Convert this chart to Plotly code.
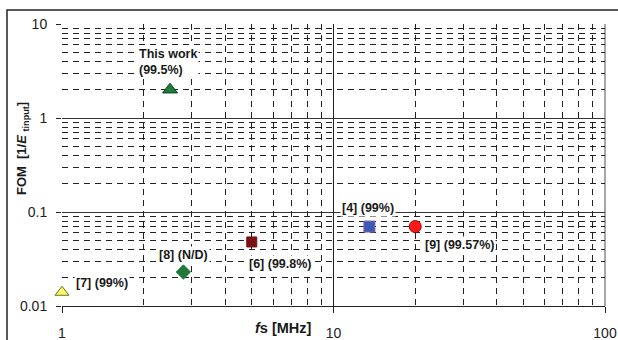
import math
import plotly.graph_objects as go

# ---- data ----
names = ["This work", "[7]", "[8]", "[6]", "[4]", "[9]"]
fs_mhz = [2.5, 1.0, 2.8, 5.0, 13.56, 20.0]
fom = [2.0, 0.014, 0.023, 0.048, 0.07, 0.07]
labels = ["This work<br>(99.5%)", "[7] (99%)", "[8] (N/D)", "[6] (99.8%)", "[4] (99%)", "[9] (99.57%)"]
x_tickvals = [1, 10, 100]
x_ticktext = ["1", "10", "100"]
y_tickvals = [0.01, 0.1, 1, 10]
y_ticktext = ["0.01", "0.1", "1", "10"]

# ---- styles ----
symbols = ["triangle-up", "triangle-up", "diamond", "square", "square", "circle"]
fills = ["#1e7b3c", "#ffff66", "#1f7a3c", "#7a1214", "#3a5bb4", "#ff1a1a"]
borders = ["#0d4020", "#6b6b20", "#1f7a3c", "#7a1214", "#8a60a8", "#a00000"]
sizes = [13, 12, 11, 10, 11, 12]
# label placement: (xanchor, xshift, yshift)
place = [("left", -33, 28), ("left", 12, 9), ("center", 0, 17),
         ("left", -5, -22), ("center", -1, 19), ("left", 8, -18)]

FONT = "Liberation Sans, Arial, sans-serif"

fig = go.Figure()
for i in range(len(names)):
    fig.add_trace(go.Scatter(
        x=[fs_mhz[i]], y=[fom[i]], mode="markers", name=names[i],
        marker=dict(symbol=symbols[i], size=sizes[i], color=fills[i],
                    line=dict(color=borders[i], width=1)),
        cliponaxis=False, showlegend=False))

for i in range(len(names)):
    xa, xs, ys = place[i]
    fig.add_annotation(x=math.log10(fs_mhz[i]), y=math.log10(fom[i]),
                       text="<b>" + labels[i] + "</b>", showarrow=False,
                       xanchor=xa, yanchor="middle", xshift=xs, yshift=ys,
                       align="left", bgcolor="white", borderpad=1,
                       font=dict(family=FONT, size=12.5, color="#1a1a1a"))

# axis titles
fig.add_annotation(xref="paper", yref="paper", x=0.407, y=-0.078,
                   text="<b><i>f</i>s [MHz]</b>", showarrow=False,
                   xanchor="center", yanchor="middle",
                   font=dict(family=FONT, size=14.5, color="#1a1a1a"))
fig.add_annotation(xref="paper", yref="paper", x=-0.0737, y=0.56,
                   text="<b>FOM  [1/<i>E</i> <sub>tinput</sub>]</b>", showarrow=False,
                   textangle=-90, xanchor="center", yanchor="middle",
                   font=dict(family=FONT, size=13, color="#1a1a1a"))

# major vertical gridline at 10 and right frame
fig.add_shape(type="line", xref="paper", yref="paper", x0=0.5, x1=0.5, y0=0, y1=1,
              line=dict(color="#222222", width=1), layer="below")
fig.add_shape(type="line", xref="paper", yref="paper", x0=1, x1=1, y0=0, y1=1,
              line=dict(color="#888888", width=1.5), layer="below")
# outer chart border (left and top visible)
fig.add_shape(type="path", xref="paper", yref="paper",
              path="M -0.1013,-0.3 L -0.1013,1.0496 L 1.2,1.0496",
              line=dict(color="#222222", width=1.5))

fig.update_xaxes(type="log", range=[0, 2], tickvals=x_tickvals, ticktext=x_ticktext,
                 ticks="outside", ticklen=6, tickcolor="#222", showgrid=False,
                 showline=True, linecolor="#222", linewidth=1, zeroline=False,
                 ticklabelstandoff=8, automargin=False,
                 tickfont=dict(family=FONT, size=14, color="#222"),
                 minor=dict(dtick="D1", showgrid=True, griddash="6px,5px",
                            gridcolor="#222", gridwidth=1, ticks=""))
fig.update_yaxes(type="log", range=[-2, 1], tickvals=y_tickvals, ticktext=y_ticktext,
                 ticks="outside", ticklen=5, tickcolor="#222", showgrid=True,
                 gridcolor="#333", gridwidth=1, showline=False, zeroline=False,
                 ticklabelstandoff=6, automargin=False,
                 tickfont=dict(family=FONT, size=14, color="#222"),
                 minor=dict(dtick="D1", showgrid=True, griddash="6px,5px",
                            gridcolor="#222", gridwidth=1, ticks=""))

fig.update_layout(width=618, height=340, margin=dict(l=62, r=13, t=24, b=34),
                  plot_bgcolor="white", paper_bgcolor="white", showlegend=False)

fig.write_html("out.html")
